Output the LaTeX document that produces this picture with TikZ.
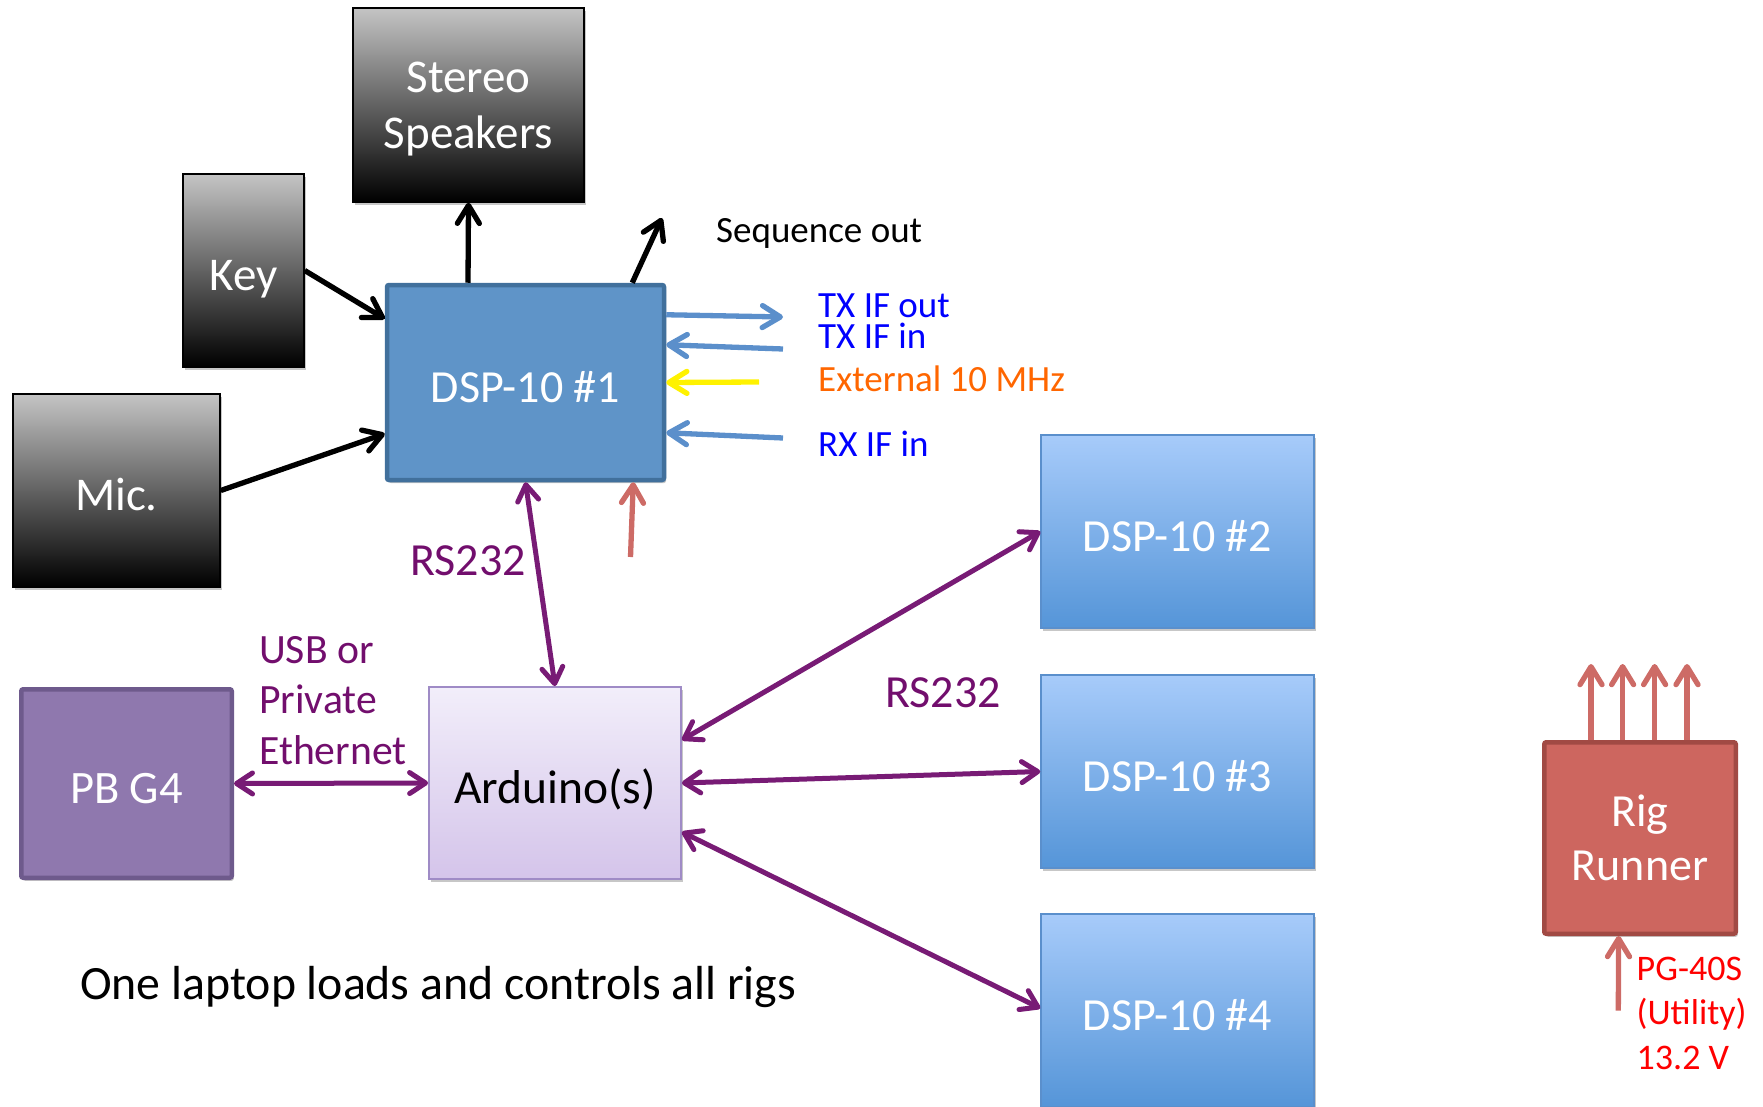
\documentclass[tikz,border=0pt]{standalone}
\usepackage{fontspec}
\setmainfont{Carlito}
\usetikzlibrary{arrows.meta,shadows}
\definecolor{topgray}{HTML}{C4C4C4}
\definecolor{dspfill}{HTML}{5F94C8}
\definecolor{dspdraw}{HTML}{41709C}
\definecolor{dsptop}{HTML}{A7CBFA}
\definecolor{dspbot}{HTML}{5595D8}
\definecolor{dspndraw}{HTML}{5A8FCC}
\definecolor{ardtop}{HTML}{F2EEFA}
\definecolor{ardbot}{HTML}{D4C4EA}
\definecolor{arddraw}{HTML}{9F8BC6}
\definecolor{pbfill}{HTML}{8F78AE}
\definecolor{pbdraw}{HTML}{6E5A8C}
\definecolor{rigfill}{HTML}{CD665F}
\definecolor{rigdraw}{HTML}{A14A44}
\definecolor{pline}{HTML}{781B75}
\definecolor{ptext}{HTML}{720E6D}
\definecolor{bline}{HTML}{5B8FCB}
\definecolor{rline}{HTML}{CD6B66}
\definecolor{orangetext}{HTML}{FF6600}
\newcommand\fsz[2]{\fontsize{#1}{#2}\selectfont}
\begin{document}
\begin{tikzpicture}[x=1pt,y=-1pt,
  box/.style={rectangle, inner sep=0pt, text height=40pt, text depth=0pt,
    drop shadow={shadow xshift=2pt, shadow yshift=-3pt, opacity=.22, fill=black}},
  twoline/.style={align=center, text height=, text depth=#1},
  darkbox/.style={box, draw=black, line width=1.5pt, top color=topgray, bottom color=black, text=white, font=\fsz{47}{56}},
  dspone/.style={box, draw=dspdraw, line width=4.5pt, fill=dspfill, rounded corners=2pt, text=white, font=\fsz{46}{56}},
  dspn/.style={box, draw=dspndraw, line width=1.5pt, top color=dsptop, bottom color=dspbot, text=white, font=\fsz{46}{56}, minimum width=273pt, minimum height=193pt},
  ardbox/.style={box, draw=arddraw, line width=1.8pt, top color=ardtop, bottom color=ardbot, text=black, font=\fsz{47.5}{56}},
  pbbox/.style={box, draw=pbdraw, line width=4.5pt, fill=pbfill, rounded corners=2pt, text=white, font=\fsz{46.5}{56}},
  rigbox/.style={box, draw=rigdraw, line width=4.5pt, fill=rigfill, rounded corners=2pt, text=white, font=\fsz{46}{54}},
  tip/.style={-{Straight Barb[length=18pt,width=22pt,round]}},
  tips/.style={{Straight Barb[length=16pt,width=21pt,round]}-{Straight Barb[length=16pt,width=21pt,round]}},
  blk/.style={tip, draw=black, line width=5.3pt},
  bl/.style={tip, draw=bline, line width=5.3pt},
  yl/.style={tip, draw=yellow, line width=5.3pt},
  rd/.style={tip, draw=rline, line width=5.3pt},
  pu/.style={tips, draw=pline, line width=5pt},
  lbl/.style={inner sep=0pt, anchor=base west},
  smalllbl/.style={lbl, font=\fsz{37}{44}},
  ]
\useasboundingbox (0,0) rectangle (1763,1107);
\clip (0,0) rectangle (1763,1107);

% boxes
\node[darkbox, twoline=-6pt, minimum width=231pt, minimum height=194pt] (spk) at (468.5,105) {Stereo\\Speakers};
\node[darkbox, minimum width=121pt, minimum height=193pt] (key) at (243.5,270.5) {Key};
\node[darkbox, minimum width=207pt, minimum height=193pt] (mic) at (116.5,490.5) {Mic.};
\node[dspone, minimum width=277pt, minimum height=195pt] (dsp1) at (525.5,382.5) {DSP-10 \#1};
\node[pbbox, minimum width=210.5pt, minimum height=188.5pt] (pb) at (126.5,783.5) {PB G4};
\node[ardbox, minimum width=252pt, minimum height=192pt] (ard) at (555,783) {Arduino(s)};
\node[dspn] (dsp2) at (1177.5,531.5) {DSP-10 \#2};
\node[dspn] (dsp3) at (1177.5,771.5) {DSP-10 \#3};
\node[dspn] (dsp4) at (1177.5,1010.5) {DSP-10 \#4};
\node[rigbox, twoline=-3pt, minimum width=191.5pt, minimum height=191.5pt] (rig) at (1640,838) {Rig\\Runner};

% black connectors
\draw[blk] ([xshift=-57.5pt]dsp1.north) -- (spk.south);
\draw[blk] (key.east) -- ([yshift=-36pt]dsp1.north west);
\draw[blk] (mic.east) -- ([yshift=-151pt]dsp1.north west);
\coordinate (seq) at (662,218);
\draw[blk] ([xshift=-34pt]dsp1.north east) -- (seq);

% IF connectors
\coordinate (txo) at (783,317);
\draw[bl] ([yshift=-32pt]dsp1.north east) -- (txo);
\coordinate (txi) at (783,349);
\draw[bl] (txi) -- ([yshift=-62pt]dsp1.north east);
\coordinate (ext) at (759,382);
\draw[yl] (ext) -- (dsp1.east);
\coordinate (rxi) at (783,438);
\draw[bl] (rxi) -- ([yshift=-150pt]dsp1.north east);
\coordinate (pw1) at (630.5,557);
\draw[rd] (pw1) -- ([xshift=-33pt]dsp1.south east);

% purple connectors
\draw[pu] (dsp1.south) -- (ard.north);
\draw[pu] (pb.east) -- (ard.west);
\draw[pu] ([yshift=43pt]ard.east) -- (dsp2.west);
\draw[pu] (ard.east) -- (dsp3.west);
\draw[pu] ([yshift=-49pt]ard.east) -- ([yshift=-95pt]dsp4.north west);

% rig runner connectors
\foreach \dx/\n in {49/a,80.6/b,112.6/c,145/d}{
  \coordinate (rt\n) at ([xshift=\dx pt, yshift=76pt]rig.north west);
  \draw[rd] ([xshift=\dx pt]rig.north west) -- (rt\n);
}
\coordinate (pg) at (1618.3,1010.7);
\draw[rd] (pg) -- ([xshift=76.6pt]rig.south west);

% labels
\node[smalllbl] (seqt) at (716,243) {Sequence out};
\node[smalllbl, text=blue] (txot) at (818,317) {TX IF out};
\node[smalllbl, text=blue] (txit) at (818,348) {TX IF in};
\node[smalllbl, text=orangetext] (extt) at (818,391) {External 10 MHz};
\node[smalllbl, text=blue] (rxit) at (818,456) {RX IF in};
\node[lbl, text=ptext, font=\fsz{46}{56}] (rs1) at (410,575) {RS232};
\node[lbl, text=ptext, font=\fsz{46}{56}] (rs2) at (885,707) {RS232};
\node[lbl, text=ptext, font=\fsz{41.7}{51}] (usb1) at (259,663) {USB or};
\node[lbl, text=ptext, font=\fsz{41.7}{51}] (usb2) at (259,713) {Private};
\node[lbl, text=ptext, font=\fsz{41.7}{51}] (usb3) at (259,764) {Ethernet};
\node[lbl, font=\fsz{47.8}{56}] (note) at (80,999.5) {One laptop loads and controls all rigs};
\node[lbl, text=red, font=\fsz{36}{44}] (pg1) at (1636.5,980) {PG-40S};
\node[lbl, text=red, font=\fsz{36}{44}] (pg2) at (1636.5,1024.5) {(Utility)};
\node[lbl, text=red, font=\fsz{36}{44}] (pg3) at (1636.5,1069) {13.2 V};
\end{tikzpicture}
\end{document}
